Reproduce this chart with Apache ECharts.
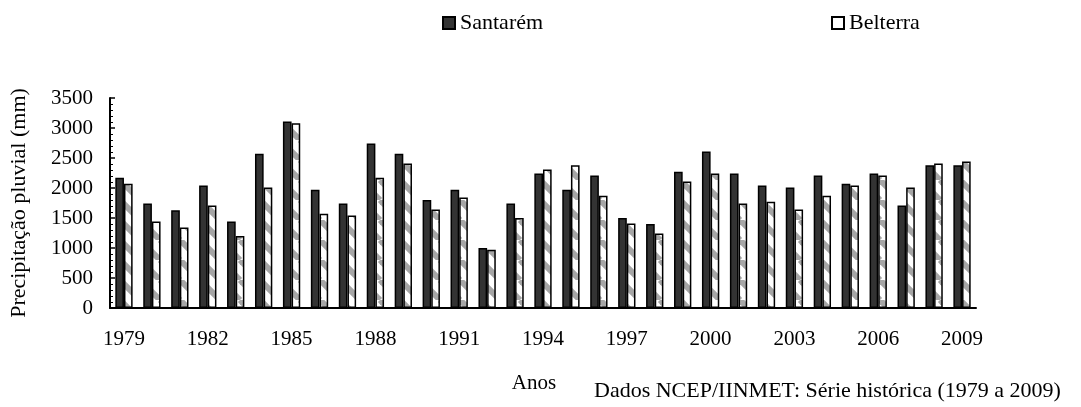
<!DOCTYPE html>
<html>
<head>
<meta charset="utf-8">
<script src="https://cdn.jsdelivr.net/npm/echarts@6/dist/echarts.min.js"></script>
<style>
  html, body { margin: 0; padding: 0; background: #fff; }
  #chart { width: 1081px; height: 407px; }
</style>
</head>
<body>
<div id="chart"></div>
<script>
// dados
var anos = ['1979','1980','1981','1982','1983','1984','1985','1986','1987','1988',
            '1989','1990','1991','1992','1993','1994','1995','1996','1997','1998',
            '1999','2000','2001','2002','2003','2004','2005','2006','2007','2008','2009'];

var santarem = [2170, 1740, 1630, 2040, 1440, 2570, 3110, 1970, 1740, 2740,
                2570, 1800, 1970, 1000, 1740, 2240, 1970, 2210, 1500, 1400,
                2270, 2610, 2240, 2040, 2010, 2210, 2070, 2240, 1710, 2380, 2380];

var belterra = [2070, 1440, 1340, 1710, 1200, 2010, 3080, 1570, 1540, 2170,
                2410, 1640, 1840, 970, 1500, 2310, 2380, 1870, 1410, 1240,
                2110, 2240, 1740, 1770, 1640, 1870, 2040, 2210, 2010, 2410, 2440];

var fonte = 'Liberation Serif';

// hachura diagonal das barras de Belterra
var hatch = document.createElement('canvas');
hatch.width = 20;
hatch.height = 20;
var ctx = hatch.getContext('2d');
ctx.fillStyle = '#fff';
ctx.fillRect(0, 0, 20, 20);
ctx.strokeStyle = '#a6a6a6';
ctx.lineWidth = 6;
[-20, 0, 20].forEach(function (d) {
    ctx.beginPath();
    ctx.moveTo(d, 0);
    ctx.lineTo(d + 20, 20);
    ctx.stroke();
});

var chart = echarts.init(document.getElementById('chart'));

var option = {
    animation: false,
    textStyle: { fontFamily: fonte, color: '#000' },
    legend: [
        {
            left: 437, top: 7,
            icon: 'rect', itemWidth: 12, itemHeight: 12,
            textStyle: { fontFamily: fonte, fontSize: 22, color: '#000' },
            data: [{ name: 'Santarém', itemStyle: { color: '#333', borderColor: '#000', borderWidth: 2 } }]
        },
        {
            left: 826, top: 7,
            icon: 'rect', itemWidth: 12, itemHeight: 12,
            textStyle: { fontFamily: fonte, fontSize: 22, color: '#000' },
            data: [{ name: 'Belterra', itemStyle: { color: '#fff', borderColor: '#000', borderWidth: 2 } }]
        }
    ],
    grid: { left: 110, right: 105, top: 98, bottom: 99 },
    xAxis: {
        type: 'category',
        data: anos,
        name: 'Anos',
        nameLocation: 'middle',
        nameGap: 65,
        nameTextStyle: { fontFamily: fonte, fontSize: 21, color: '#000', padding: [0, 18, 0, 0] },
        axisLine: { lineStyle: { color: '#000', width: 2 } },
        axisTick: { inside: true, length: 5, lineStyle: { color: '#000', width: 2 } },
        axisLabel: { interval: 2, margin: 21, fontFamily: fonte, fontSize: 21, color: '#000' }
    },
    yAxis: {
        type: 'value',
        min: 0, max: 3500, interval: 500,
        name: 'Precipitação pluvial (mm)',
        nameLocation: 'middle',
        nameGap: 80,
        nameTextStyle: { fontFamily: fonte, fontSize: 22, color: '#000' },
        axisLine: { show: true, lineStyle: { color: '#000', width: 2 } },
        axisTick: { show: true, inside: true, length: 5, lineStyle: { color: '#000', width: 1.5 } },
        minorTick: { show: true, splitNumber: 5, length: 3, lineStyle: { color: '#000', width: 1 } },
        splitLine: { show: false },
        axisLabel: {
            margin: 17, fontFamily: fonte, fontSize: 21, color: '#000',
            formatter: function (v) { return String(v); }
        }
    },
    graphic: [
        {
            type: 'text', left: 594, top: 380,
            style: { text: 'Dados NCEP/IINMET: Série histórica (1979 a 2009)', font: '22px "Liberation Serif"', fill: '#000' }
        }
    ],
    series: [
        {
            name: 'Santarém',
            type: 'bar',
            data: santarem,
            barGap: '0%',
            barCategoryGap: '38%',
            itemStyle: { color: '#333', borderColor: '#000', borderWidth: 1.5 }
        },
        {
            name: 'Belterra',
            type: 'bar',
            data: belterra,
            itemStyle: { color: { image: hatch, repeat: 'repeat' }, borderColor: '#000', borderWidth: 1.5 }
        }
    ]
};

chart.setOption(option);
</script>
</body>
</html>
